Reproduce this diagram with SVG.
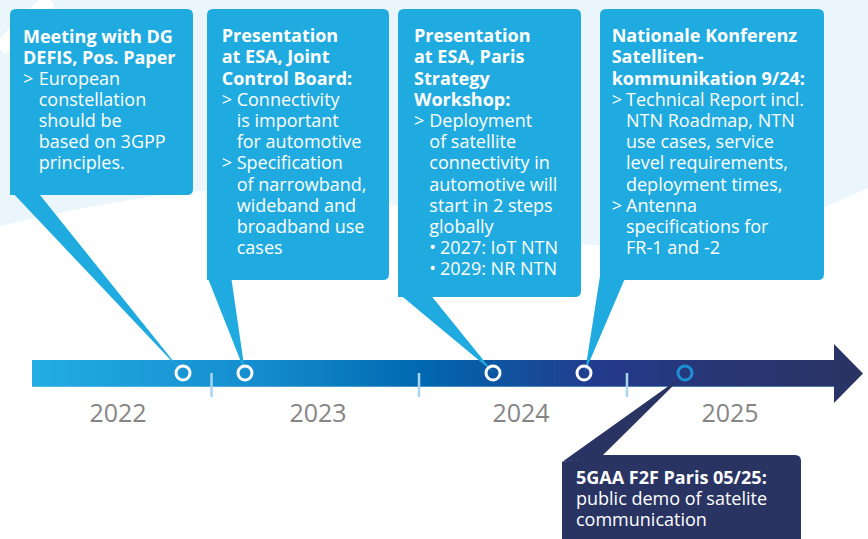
<svg xmlns="http://www.w3.org/2000/svg" width="868" height="539" viewBox="0 0 868 539">
  <defs>
    <linearGradient id="barGrad" gradientUnits="userSpaceOnUse" x1="32" y1="0" x2="863" y2="0">
      <stop offset="0" stop-color="#22ade2"/>
      <stop offset="0.28" stop-color="#148bcd"/>
      <stop offset="0.47" stop-color="#0068b0"/>
      <stop offset="0.68" stop-color="#233b8c"/>
      <stop offset="0.85" stop-color="#283571"/>
      <stop offset="1" stop-color="#2a3363"/>
    </linearGradient>
    <style>
      .card { fill: #20abe0; }
      .dark { fill: #293463; }
      .t { font-family: "Open Sans", "Noto Sans", "Liberation Sans", sans-serif; font-size: 18px; fill: #ffffff; }
      .b { font-weight: 700; }
      .year { font-family: "Open Sans", "Noto Sans", "Liberation Sans", sans-serif; font-size: 25px; font-weight: 400; fill: #858585; text-anchor: middle; }
      .tick { stroke: #a8d5f2; stroke-width: 2.5; }
      .dot { fill: none; stroke: #ffffff; stroke-width: 3; }
      .dot2 { fill: none; stroke: #1e8fd5; stroke-width: 3; }
    </style>
  </defs>

  <!-- soft background shapes -->
  <rect width="868" height="539" fill="#ffffff"/>
  <path d="M0,0 H868 V188 C830,205 760,240 640,246 C520,250 420,200 300,190 C200,183 90,205 0,226 Z" fill="#ebf6fc"/>
  <path d="M50,0 Q22,22 0,50" fill="none" stroke="#ffffff" stroke-width="14"/>

  <!-- timeline -->
  <g id="timeline">
    <path d="M32,360 H834 V344 L863,373.5 L834,403 V387 H32 Z" fill="url(#barGrad)"/>
    <line x1="32" y1="386.5" x2="834" y2="386.5" stroke="#8fd0f2" stroke-opacity="0.45" stroke-width="1"/>
    <line class="tick" x1="211.5" y1="373" x2="211.5" y2="397"/>
    <line class="tick" x1="419" y1="373" x2="419" y2="397"/>
    <line class="tick" x1="627" y1="373" x2="627" y2="397"/>
    <text class="year" x="118" y="422">2022</text>
    <text class="year" x="318" y="422">2023</text>
    <text class="year" x="521" y="422">2024</text>
    <text class="year" x="730" y="422">2025</text>
  </g>

  <!-- callout pointers -->
  <g id="connectors">
    <polygon class="card" points="10,190 36,190 182,372"/>
    <polygon class="card" points="207,276 231,276 245,372"/>
    <polygon class="card" points="398,293 429,293 493,372"/>
    <polygon class="card" points="600,276 626,276 585,372"/>
    <polygon class="dark" points="562,462 602,456 684,375"/>
    <circle class="dot" cx="183" cy="373" r="7"/>
    <circle class="dot" cx="245" cy="373" r="7"/>
    <circle class="dot" cx="493" cy="373" r="7"/>
    <circle class="dot" cx="584" cy="373" r="7"/>
    <circle class="dot2" cx="685" cy="373" r="7"/>
  </g>

  <g id="node-defis">
    <path class="card" d="M16,9 H187 Q193,9 193,15 V189 Q193,195 187,195 H10 V15 Q10,9 16,9 Z"/>
    <text class="t b" x="23" y="43">Meeting with DG</text>
    <text class="t b" x="23" y="64">DEFIS, Pos. Paper</text>
    <text class="t" x="23" y="85">&gt;</text>
    <text class="t" x="38.7" y="85">European</text>
    <text class="t" x="38.7" y="106">constellation</text>
    <text class="t" x="38.7" y="127">should be</text>
    <text class="t" x="38.7" y="148">based on 3GPP</text>
    <text class="t" x="38.7" y="169">principles.</text>
  </g>

  <g id="node-esa-jcb">
    <path class="card" d="M213,9 H383 Q389,9 389,15 V274 Q389,280 383,280 H207 V15 Q207,9 213,9 Z"/>
    <text class="t b" x="221.7" y="42">Presentation</text>
    <text class="t b" x="221.7" y="63.3">at ESA, Joint</text>
    <text class="t b" x="221.7" y="84.5">Control Board:</text>
    <text class="t" x="221.7" y="105.7">&gt;</text>
    <text class="t" x="236.7" y="105.7">Connectivity</text>
    <text class="t" x="236.7" y="127">is important</text>
    <text class="t" x="236.7" y="148">for automotive</text>
    <text class="t" x="221.7" y="169.3">&gt;</text>
    <text class="t" x="236.7" y="169.3">Specification</text>
    <text class="t" x="236.7" y="190.5">of narrowband,</text>
    <text class="t" x="236.7" y="211.7">wideband and</text>
    <text class="t" x="236.7" y="233">broadband use</text>
    <text class="t" x="236.7" y="254">cases</text>
  </g>

  <g id="node-esa-paris">
    <path class="card" d="M404,9 H575 Q581,9 581,15 V291 Q581,297 575,297 H398 V15 Q398,9 404,9 Z"/>
    <text class="t b" x="414" y="42">Presentation</text>
    <text class="t b" x="414" y="63.3">at ESA, Paris</text>
    <text class="t b" x="414" y="84.5">Strategy</text>
    <text class="t b" x="414" y="105.7">Workshop:</text>
    <text class="t" x="414" y="127">&gt;</text>
    <text class="t" x="429.3" y="127">Deployment</text>
    <text class="t" x="429.3" y="148">of satellite</text>
    <text class="t" x="429.3" y="169.3">connectivity in</text>
    <text class="t" x="429.3" y="190.5">automotive will</text>
    <text class="t" x="429.3" y="211.7">start in 2 steps</text>
    <text class="t" x="429.3" y="233">globally</text>
    <text class="t" x="429.3" y="254">•</text>
    <text class="t" x="440" y="254">2027: IoT NTN</text>
    <text class="t" x="429.3" y="275.3">•</text>
    <text class="t" x="440" y="275.3">2029: NR NTN</text>
  </g>

  <g id="node-konferenz">
    <path class="card" d="M606,9 H818 Q824,9 824,15 V274 Q824,280 818,280 H600 V15 Q600,9 606,9 Z"/>
    <text class="t b" x="611.7" y="42">Nationale Konferenz</text>
    <text class="t b" x="611.7" y="63.3">Satelliten-</text>
    <text class="t b" x="611.7" y="84.5">kommunikation 9/24:</text>
    <text class="t" x="611.7" y="105.7">&gt;</text>
    <text class="t" x="626" y="105.7">Technical Report incl.</text>
    <text class="t" x="626" y="127">NTN Roadmap, NTN</text>
    <text class="t" x="626" y="148">use cases, service</text>
    <text class="t" x="626" y="169.3">level requirements,</text>
    <text class="t" x="626" y="190.5">deployment times,</text>
    <text class="t" x="611.7" y="211.7">&gt;</text>
    <text class="t" x="626" y="211.7">Antenna</text>
    <text class="t" x="626" y="233">specifications for</text>
    <text class="t" x="626" y="254">FR-1 and -2</text>
  </g>

  <g id="node-5gaa">
    <path class="dark" d="M562,539 V462 L602,455 H795 Q801,455 801,461 V539 Z"/>
    <text class="t b" x="576" y="484">5GAA F2F Paris 05/25:</text>
    <text class="t" x="576" y="505">public demo of satelite</text>
    <text class="t" x="576" y="526">communication</text>
  </g>
</svg>
